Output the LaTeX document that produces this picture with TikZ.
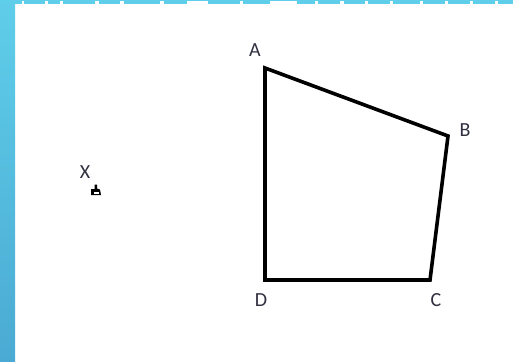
\documentclass[tikz,border=0pt]{standalone}
\usepackage{fontspec}
\setmainfont{Carlito}
\definecolor{bandtop}{HTML}{5FCEEA}
\definecolor{bandbot}{HTML}{4BAAD3}
\definecolor{lbl}{HTML}{303040}
\begin{document}
\begin{tikzpicture}[x=1pt,y=-1pt,
  edge/.style={line width=3.6pt, line join=miter, black},
  lab/.style={font=\fontsize{20}{20}\selectfont, text=lbl, inner sep=0pt}]
\useasboundingbox (0,0) rectangle (513,361);
\fill[white] (0,0) rectangle (513,361);
% top band (bottom of cut-off heading letters)
\fill[bandtop] (0,0) rectangle (513,4);
\foreach \a/\b in {12/15, 22/24, 45/48, 60/63, 95/99, 120/124, 160/164, 187/208, 240/243, 270/297, 315/318, 340/344, 365/368, 390/393, 420/423, 445/448, 470/473, 495/498}
  \fill[white] (\a,1.5) rectangle (\b,4);
% left band with gradient
\shade[top color=bandtop, bottom color=bandbot] (0,0) rectangle (15,361);
% quadrilateral
\coordinate (A) at (265,68);
\coordinate (B) at (448,136);
\coordinate (C) at (430,280);
\coordinate (D) at (265,280);
\draw[edge] (A) -- (B) -- (C) -- (D) -- cycle;
\node[lab] (la) at (255,50) {A};
\node[lab] (lb) at (465,130) {B};
\node[lab] (lc) at (436,300) {C};
\node[lab] (ld) at (261,300) {D};
\node[lab] (lx) at (85,172) {X};
% small marker under X
\fill[black] (91,195) -- (91,189) -- (94.5,189) -- (94.5,184.5) -- (97,184.5) -- (97,188.5) -- (100,189.5) -- (101,195) -- cycle;
\fill[white] (93.5,191.5) rectangle (98.5,193.5);
\end{tikzpicture}
\end{document}
